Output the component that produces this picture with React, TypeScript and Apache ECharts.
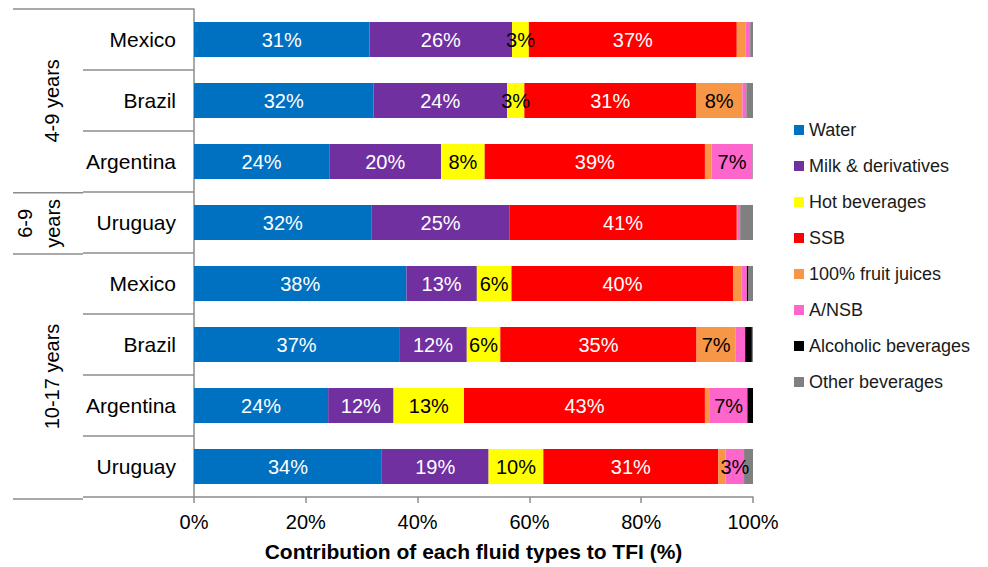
import React, { useEffect, useRef } from "react";
import * as echarts from "echarts";

const countries = ["Mexico", "Brazil", "Argentina", "Uruguay", "Mexico", "Brazil", "Argentina", "Uruguay"];
const ageGroupLabels = ["4-9 years", "6-9\nyears", "10-17 years"];
const ageGroupStarts = [0, 3, 4];
const ageGroupEnds = [3, 4, 8];

const seriesNames = [
  "Water",
  "Milk & derivatives",
  "Hot beverages",
  "SSB",
  "100% fruit juices",
  "A/NSB",
  "Alcoholic beverages",
  "Other beverages",
];
const water = [31.4, 32.1, 24.2, 31.8, 38.0, 36.7, 24.0, 33.6];
const milk = [25.5, 23.9, 20.0, 24.6, 12.6, 12.1, 11.7, 19.1];
const hot = [3.0, 3.1, 7.8, 0, 6.2, 6.0, 12.6, 9.8];
const ssb = [37.2, 30.7, 39.4, 40.7, 39.7, 35.1, 43.1, 31.3];
const juice = [1.6, 8.3, 1.2, 0.2, 1.5, 7.0, 0.9, 1.3];
const ansb = [0.8, 0.7, 7.3, 0.4, 0.9, 1.7, 6.7, 3.3];
const alcohol = [0, 0, 0, 0, 0.3, 1.2, 1.0, 0];
const other = [0.5, 1.2, 0.1, 2.3, 0.8, 0.2, 0, 1.6];
const xTicks = [0, 20, 40, 60, 80, 100];

const seriesData = [water, milk, hot, ssb, juice, ansb, alcohol, other];
const colors = ["#0070C0", "#7030A0", "#FFFF00", "#FF0000", "#F79646", "#FF66CC", "#000000", "#808080"];
const labelColors = ["#fff", "#fff", "#000", "#fff", "#000", "#000", "#fff", "#fff"];

const FONT = "'Liberation Sans', Arial, sans-serif";
const GRID_LEFT = 194;
const GRID_TOP = 9;
const GRID_W = 559;
const GRID_H = 490;
const AXIS_GRAY = "#8c8c8c";

export default function App() {
  const ref = useRef<HTMLDivElement>(null);
  useEffect(() => {
    if (!ref.current) return;
    const chart = echarts.init(ref.current, undefined, { renderer: "svg" });
    const band = GRID_H / countries.length;
    const graphics: any[] = [];
    const boundaries = new Set<number>();
    ageGroupStarts.forEach((s) => boundaries.add(s));
    ageGroupEnds.forEach((e) => boundaries.add(e));
    boundaries.forEach((b) => {
      const y = GRID_TOP + b * band;
      graphics.push({
        type: "line",
        shape: { x1: 13, y1: y, x2: 83, y2: y },
        style: { stroke: AXIS_GRAY, lineWidth: 1.5 },
        silent: true,
      });
    });
    ageGroupLabels.forEach((lab, i) => {
      const yc = GRID_TOP + ((ageGroupStarts[i] + ageGroupEnds[i]) / 2) * band;
      graphics.push({
        type: "text",
        x: i === 1 ? 39 : 52,
        y: yc,
        rotation: Math.PI / 2,
        style: {
          text: lab,
          font: `20px ${FONT}`,
          fill: "#000",
          align: "center",
          verticalAlign: "middle",
          lineHeight: 28,
        },
        silent: true,
      });
    });

    chart.setOption({
      animation: false,
      textStyle: { fontFamily: FONT },
      grid: { left: GRID_LEFT, top: GRID_TOP, width: GRID_W, height: GRID_H, containLabel: false },
      legend: {
        data: seriesNames,
        orient: "vertical",
        left: 794,
        top: 121,
        itemWidth: 10,
        itemHeight: 10,
        itemGap: 18,
        icon: "rect",
        padding: 0,
        textStyle: { fontSize: 18, color: "#1a1a1a", fontFamily: FONT },
      },
      xAxis: {
        type: "value",
        min: 0,
        max: 100,
        interval: 20,
        name: "Contribution of each fluid types to TFI (%)",
        nameLocation: "middle",
        nameGap: 44,
        nameTextStyle: { fontSize: 21, fontWeight: "bold", color: "#000", fontFamily: FONT },
        axisLine: { show: true, lineStyle: { color: AXIS_GRAY, width: 1.5 } },
        axisTick: { show: true, length: 6, lineStyle: { color: AXIS_GRAY, width: 1.5 } },
        splitLine: { show: false },
        axisLabel: {
          fontSize: 20,
          color: "#000",
          margin: 15,
          formatter: (v: number) => (xTicks.includes(v) ? `${v}%` : ""),
        },
      },
      yAxis: {
        type: "category",
        inverse: true,
        data: countries.map((c, i) => `${i}`),
        axisLine: { show: true, lineStyle: { color: AXIS_GRAY, width: 1.5 } },
        axisTick: { show: true, length: 111, interval: 0, lineStyle: { color: AXIS_GRAY, width: 1.5 } },
        axisLabel: {
          fontSize: 21,
          color: "#000",
          margin: 18,
          interval: 0,
          formatter: (v: string) => countries[Number(v)],
        },
      },
      series: seriesNames.map((name, si) => ({
        name,
        type: "bar",
        stack: "total",
        barWidth: 35,
        itemStyle: { color: colors[si] },
        label: {
          show: true,
          position: "inside",
          fontSize: 20,
          color: labelColors[si],
          fontFamily: FONT,
          formatter: (p: any) => (p.value >= 2.5 ? `${Math.round(p.value)}%` : ""),
        },
        data: seriesData[si],
      })),
      graphic: graphics,
    });
    return () => chart.dispose();
  }, []);
  return (
    <div
      ref={ref}
      style={{ position: "absolute", left: 0, top: 0, width: 988, height: 567, background: "#fff" }}
    />
  );
}
